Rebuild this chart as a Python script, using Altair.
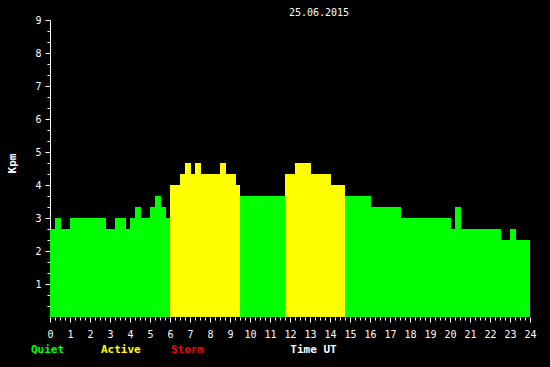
import altair as alt
import pandas as pd

# Kp segments: start hour (UT) and Kp value; each segment ends where the next one starts
start = [0.00, 0.25, 0.55, 1.00, 2.80, 3.25, 3.80, 4.00, 4.25, 4.55, 5.00, 5.25, 5.55, 5.80,
         6.00, 6.50, 6.75, 7.05, 7.25, 7.55, 8.50, 8.80, 9.30, 9.50, 11.75, 12.25, 13.05,
         14.05, 14.75, 16.05, 17.55, 20.05, 20.25, 20.55, 22.55, 23.00, 23.30]
end = start[1:] + [24.0]
kp = [8/3, 3, 8/3, 3, 8/3, 3, 8/3, 3, 10/3, 3, 10/3, 11/3, 10/3, 3,
      4, 13/3, 14/3, 13/3, 14/3, 13/3, 14/3, 13/3, 4, 11/3, 13/3, 14/3, 13/3,
      4, 11/3, 10/3, 3, 8/3, 10/3, 8/3, 7/3, 8/3, 7/3]

levels = ["Quiet", "Active", "Storm"]
level_colors = ["#00ff00", "#ffff00", "#ff0000"]

hour_ticks = [i / 4 for i in range(97)]
kp_ticks = [i / 3 for i in range(1, 28)]

def level_of(v):
    if v >= 4.999:
        return "Storm"
    if v >= 3.999:
        return "Active"
    return "Quiet"

df = pd.DataFrame({"start": start, "end": end, "kp": kp})
df["level"] = [level_of(v) for v in kp]

FONT = "DejaVu Sans Mono"
is_int = "abs(datum.value - round(datum.value)) < 0.001"
tick_len = {"condition": {"test": is_int, "value": 5}, "value": 3}
int_label = is_int + " ? format(datum.value, 'd') : ''"

x_axis = alt.Axis(
    values=hour_ticks, domain=False, grid=False,
    tickColor="white", tickSize=tick_len, tickWidth=1,
    labelExpr=int_label, labelColor="white", labelFont=FONT, labelFontSize=10,
    labelPadding=7, labelOverlap=False, labelFlush=False, labelAngle=0,
    title="Time UT", titleColor="white", titleFont=FONT, titleFontSize=11,
    titleFontWeight="bold", titleX=263, titleY=32, titleAlign="center",
    titleBaseline="middle",
)

y_axis = alt.Axis(
    values=kp_ticks, domain=True, domainColor="white", grid=False,
    tickColor="white", tickSize=tick_len, tickWidth=1,
    labelExpr=int_label, labelColor="white", labelFont=FONT, labelFontSize=10,
    labelPadding=4, labelOverlap=False, labelFlush=False,
    title="Kpm", titleColor="white", titleFont=FONT, titleFontSize=11,
    titleFontWeight="bold", titleX=-38, titleY=143, titleAngle=270,
    titleAlign="center", titleBaseline="middle",
)

legend = alt.Legend(
    orient="none", legendX=-30, legendY=324, direction="horizontal", title=None,
    symbolSize=0, symbolOpacity=0, symbolStrokeWidth=0, labelOffset=0,
    columnPadding=19, gridAlign="all", padding=0,
    labelColor={"expr": "datum.label == 'Quiet' ? '#00ff00' : datum.label == 'Active' ? '#ffff00' : '#ff0000'"},
    labelFont=FONT, labelFontSize=11, labelFontWeight="bold",
)

chart = alt.Chart(df).mark_rect(strokeWidth=0).encode(
    x=alt.X("start:Q", scale=alt.Scale(domain=[0, 24], nice=False, zero=False), axis=x_axis),
    x2="end:Q",
    y=alt.Y("kp:Q", scale=alt.Scale(domain=[0, 9], nice=False), axis=y_axis),
    y2=alt.datum(0),
    color=alt.Color("level:N", scale=alt.Scale(domain=levels, range=level_colors), legend=legend),
).properties(
    width=480,
    height=297,
    autosize="none",
    padding={"left": 50, "top": 20, "right": 20, "bottom": 50},
    title=alt.TitleParams("25.06.2015", color="white", font=FONT, fontSize=10,
                          fontWeight="normal", anchor="middle", dx=29, offset=-3),
).configure(
    background="black",
).configure_view(
    stroke=None,
)

chart.save("out.html", embed_options={"renderer": "svg", "actions": False})
